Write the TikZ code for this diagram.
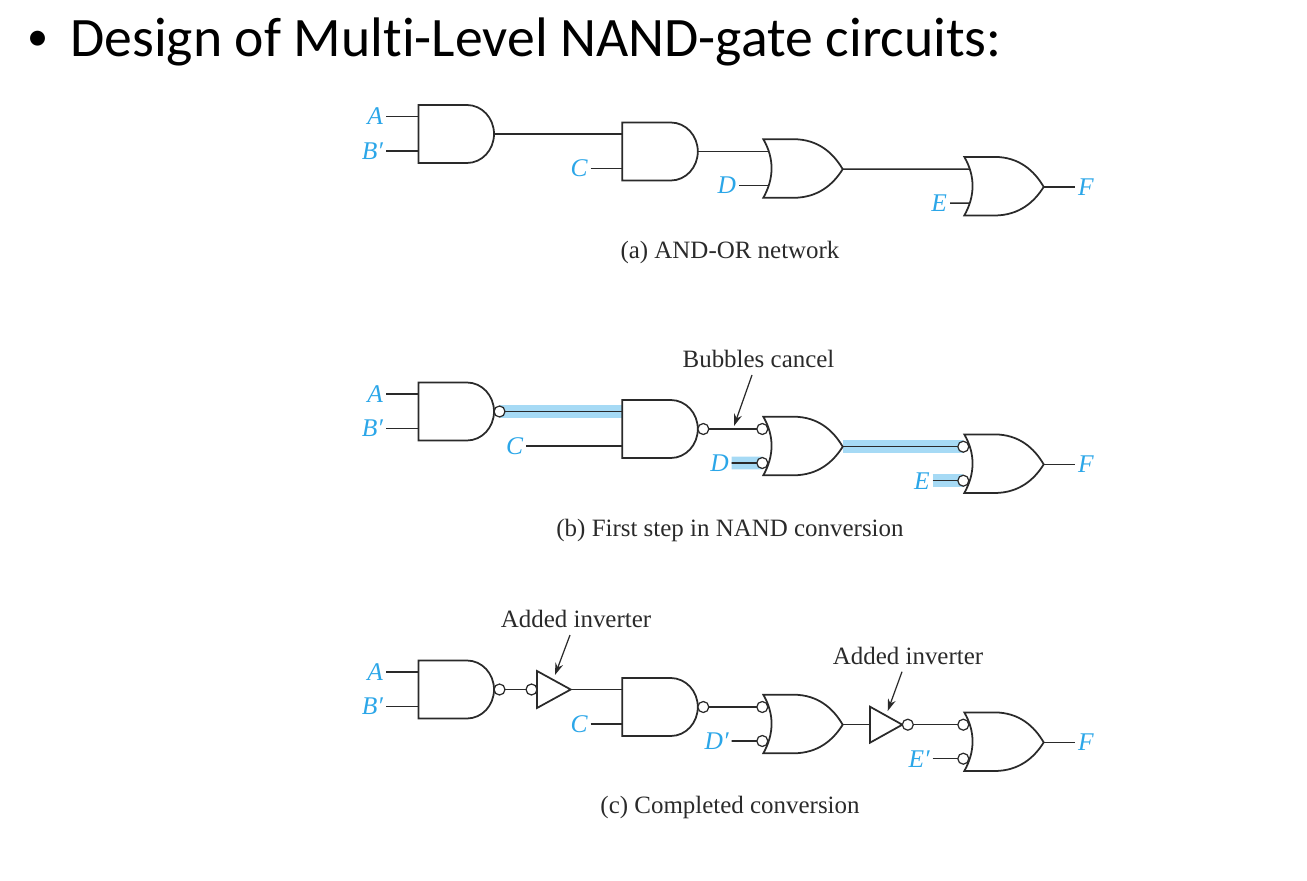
\documentclass[tikz,border=0pt]{standalone}
\usepackage{fontspec}
\setmainfont{Liberation Serif}
\newfontfamily\titlefont[Ligatures=CommonOff]{Carlito}
\usetikzlibrary{positioning,backgrounds,arrows.meta}
\definecolor{sigblue}{HTML}{2BA6E8}
\definecolor{hiblue}{HTML}{A6DAF5}
\definecolor{inkgray}{HTML}{2A2A2A}
\tikzset{
	wire/.style={line width=0.9pt, color=inkgray},
	hilite/.style={line width=0.26cm, color=hiblue},
	gatebody/.style={line width=1pt, color=inkgray, line join=miter},
	bubble/.style={circle, draw=inkgray, fill=white, line width=0.7pt, minimum size=0.22cm, inner sep=0pt, outer sep=0pt},
	sig/.style={text=sigblue, font=\fontsize{14.5}{16}\selectfont\itshape, inner sep=0.06cm, outer sep=0pt},
	capt/.style={text=inkgray, font=\fontsize{14.2}{16}\selectfont, inner sep=0pt},
	callout/.style={line width=0.7pt, color=inkgray, -{Stealth[length=2.4mm,width=1.6mm]}}
}
% and-shaped body: top left corner at (#2,#3)
\def\andgate(#1)(#2,#3){
	\begin{scope}[shift={(#2,#3)}]
		\draw[gatebody] (48.5,0) -- (0,0) -- (0,58) -- (48.5,58) arc[start angle=90, end angle=-90, x radius=27, y radius=29];
		\coordinate (#1-i1) at (0,11.5);
		\coordinate (#1-i2) at (0,46);
		\coordinate (#1-o) at (75.5,29);
	\end{scope}
}
% or-shaped body
\def\orgate(#1)(#2,#3){
	\begin{scope}[shift={(#2,#3)}]
		\draw[gatebody] (0,0) -- (30,0) .. controls (55,0) and (70,14) .. (79.4,30) .. controls (70,45) and (55,58.6) .. (30,58.6) -- (0,58.6) .. controls (11,39) and (11,19) .. (0,0) -- cycle;
		\coordinate (#1-i1) at (4.5,12.3);
		\coordinate (#1-i2) at (4.5,46.3);
		\coordinate (#1-o) at (79.4,30);
	\end{scope}
}
% triangle, (#2,#3) is the middle of its left side
\def\buffer(#1)(#2,#3)(#4,#5){
	\begin{scope}[shift={(#2,#3)}]
		\draw[gatebody] (0,-#5/2) -- (#4,0) -- (0,#5/2) -- cycle;
		\coordinate (#1-i) at (0,0);
		\coordinate (#1-o) at (#4,0);
	\end{scope}
}

\begin{document}
\begin{tikzpicture}[x=0.02cm, y=-0.02cm]
	\useasboundingbox (0,0) rectangle (1307,881);
	
	\node[anchor=base, inner sep=0pt, font=\titlefont\fontsize{24}{30}\selectfont] (dot) at (38,51) {•};
	\node[anchor=base west, inner sep=0pt, font=\titlefont\fontsize{31.7}{34}\selectfont] (title) at (70,56.5) {Design of Multi-Level NAND-gate circuits:};
	
	%%%%% gates of the three rows %%%%%
	\foreach \r/\dy in {a/0, b/277.5, c/555.5} {
		\andgate(\r1)(418.5,105+\dy)
		\andgate(\r2)(622.3,122.5+\dy)
		\orgate(\r3)(763.3,139.2+\dy)
		\orgate(\r4)(964.3,156.9+\dy)
		\node[sig, anchor=east] (\r A) at (386,116.5+\dy) {A};
		\node[sig, anchor=east] (\r B) at (386,151+\dy) {B′};
		\node[sig, anchor=west] (\r F) at (1075,186.9+\dy) {F};
		\draw[wire] (\r A.east) -- (\r1-i1);
		\draw[wire] (\r B.east) -- (\r1-i2);
		\draw[wire] (\r4-o) -- (\r F.west);
	}
	
	%%%%% (a) %%%%%
	\node[sig, anchor=east] (aC) at (590.7,168.5) {C};
	\node[sig, anchor=east] (aD) at (739,185.5) {D};
	\node[sig, anchor=east] (aE) at (950,203.2) {E};
	\draw[wire] (a1-o) -- (a2-i1);
	\draw[wire] (a2-o) -- (a3-i1);
	\draw[wire] (a3-o) -- (a4-i1);
	\draw[wire] (aC.east) -- (a2-i2);
	\draw[wire] (aD.east) -- (a3-i2);
	\draw[wire] (aE.east) -- (a4-i2);
	\node[capt] (capa) at (730,252.5) {(a) AND-OR network};
	
	%%%%% (b) %%%%%
	\node[bubble, right=0pt of b1-o] (bb1) {};
	\node[bubble, right=0pt of b2-o] (bb2) {};
	\node[bubble, left=0pt of b3-i1] (bb3) {};
	\node[bubble, left=0pt of b3-i2] (bb4) {};
	\node[bubble, left=0pt of b4-i1] (bb5) {};
	\node[bubble, left=0pt of b4-i2] (bb6) {};
	\node[sig, anchor=east] (bC) at (526,446) {C};
	\node[sig, anchor=east] (bD) at (731.7,463) {D};
	\node[sig, anchor=east] (bE) at (932.7,480.7) {E};
	\begin{scope}[on background layer]
		\draw[hilite] (bb1.center) -- (b2-i1);
		\draw[hilite] (b3-o) -- (bb5.center);
		\draw[hilite] (bD.east) -- (bb4.center);
		\draw[hilite] (bE.east) -- (bb6.center);
	\end{scope}
	\draw[wire] (bb1) -- (b2-i1);
	\draw[wire] (bb2) -- (bb3);
	\draw[wire] (b3-o) -- (bb5);
	\draw[wire] (bC.east) -- (b2-i2);
	\draw[wire] (bD.east) -- (bb4);
	\draw[wire] (bE.east) -- (bb6);
	\node[capt] (bubtxt) at (758.5,358.5) {Bubbles cancel};
	\coordinate (bubfrom) at (752,375);
	\coordinate (bubto) at (734,426);
	\draw[callout] (bubfrom) -- (bubto);
	\node[capt] (capb) at (730,530) {(b) First step in NAND conversion};
	
	%%%%% (c) %%%%%
	\node[bubble, right=0pt of c1-o] (cb1) {};
	\node[bubble, right=0pt of c2-o] (cb2) {};
	\node[bubble, left=0pt of c3-i1] (cb3) {};
	\node[bubble, left=0pt of c3-i2] (cb4) {};
	\node[bubble, left=0pt of c4-i1] (cb5) {};
	\node[bubble, left=0pt of c4-i2] (cb6) {};
	\buffer(inva)(537,689.5)(33.7,37)
	\buffer(invb)(870,724.7)(32.3,36)
	\node[bubble, left=0pt of inva-i] (cb7) {};
	\node[bubble, right=0pt of invb-o] (cb8) {};
	\node[sig, anchor=east] (cC) at (590.7,724) {C};
	\node[sig, anchor=east] (cD) at (731.7,741) {D′};
	\node[sig, anchor=east] (cE) at (932.7,758.7) {E′};
	\draw[wire] (cb1) -- (cb7);
	\draw[wire] (inva-o) -- (c2-i1);
	\draw[wire] (cb2) -- (cb3);
	\draw[wire] (c3-o) -- (invb-i);
	\draw[wire] (cb8) -- (cb5);
	\draw[wire] (cC.east) -- (c2-i2);
	\draw[wire] (cD.east) -- (cb4);
	\draw[wire] (cE.east) -- (cb6);
	\node[capt] (addtxta) at (576,618.5) {Added inverter};
	\node[capt] (addtxtb) at (908,655.5) {Added inverter};
	\coordinate (addfroma) at (570,635);
	\coordinate (addtoa) at (555,675);
	\coordinate (addfromb) at (902,671.7);
	\coordinate (addtob) at (887.7,711);
	\draw[callout] (addfroma) -- (addtoa);
	\draw[callout] (addfromb) -- (addtob);
	\node[capt] (capc) at (730,807.5) {(c) Completed conversion};
\end{tikzpicture}
\end{document}
